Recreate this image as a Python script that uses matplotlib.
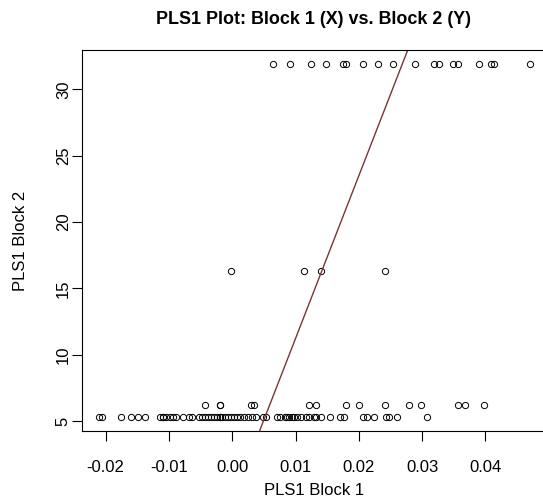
import numpy as np
import matplotlib
matplotlib.use('agg')
import matplotlib.pyplot as plt

plt.rcParams['font.family'] = ['Liberation Sans', 'DejaVu Sans']

# PLS1 scores: block 1 (x) against block 2 (y), one list per y level
x_top = [0.0065, 0.0092, 0.0124, 0.0148, 0.0175, 0.0179, 0.0206, 0.0230, 0.0254,
         0.0289, 0.0319, 0.0327, 0.0349, 0.0357, 0.0390, 0.0408, 0.0413, 0.0470]
y_top = 31.9

x_mid = [-0.0002, 0.0113, 0.0141, 0.0241]
y_mid = 16.33

x_upper = [-0.0043, -0.0019, -0.0019, 0.0029, 0.0035, 0.0122, 0.0132, 0.0179,
           0.0200, 0.0241, 0.0279, 0.0298, 0.0356, 0.0367, 0.0397]
y_upper = 6.2

x_low = [-0.0210, -0.0205, -0.0175, -0.0160, -0.0149, -0.0137, -0.0114, -0.0110,
         -0.0110, -0.0105, -0.0098, -0.0094, -0.0089, -0.0078, -0.0068, -0.0063,
         -0.0052, -0.0048, -0.0043, -0.0038, -0.0033, -0.0029, -0.0024, -0.0019,
         -0.0019, -0.0016, -0.0011, -0.0006, -0.0002, 0.0003, 0.0008, 0.0013,
         0.0019, 0.0025, 0.0032, 0.0038, 0.0048, 0.0054, 0.0071, 0.0076, 0.0083,
         0.0087, 0.0089, 0.0094, 0.0098, 0.0103, 0.0108, 0.0116, 0.0122, 0.0129,
         0.0133, 0.0140, 0.0154, 0.0171, 0.0176, 0.0206, 0.0213, 0.0224, 0.0243,
         0.0248, 0.0260, 0.0308]
y_low = 5.33

# fitted line y = a + b * x
line_a = -1.03
line_b = 1226.0

xticks = [-0.02, -0.01, 0.00, 0.01, 0.02, 0.03, 0.04]
yticks = [5, 10, 15, 20, 25, 30]

x = np.array(x_top + x_mid + x_upper + x_low)
y = np.array([y_top] * len(x_top) + [y_mid] * len(x_mid)
             + [y_upper] * len(x_upper) + [y_low] * len(x_low))

fig = plt.figure(figsize=(5.43, 4.99), dpi=100)
ax = fig.add_axes([82 / 543, 68 / 499, 465 / 543, 381 / 499])

ax.plot(x, y, 'o', mfc='none', mec='black', ms=4.5, mew=0.7)

# R style padding of 4% on each side
xr = x.max() - x.min()
yr = y.max() - y.min()
ax.set_xlim(x.min() - 0.04 * xr, x.max() + 0.04 * xr)
ax.set_ylim(y.min() - 0.04 * yr, y.max() + 0.04 * yr)

xs = np.array(ax.get_xlim())
ax.plot(xs, line_a + line_b * xs, color='#7a3434', lw=1)
ax.set_xlim(xs)

ax.set_xticks(xticks)
ax.set_xticklabels(['%.2f' % t for t in xticks])
ax.set_yticks(yticks)
ax.set_yticklabels([str(t) for t in yticks], rotation=90, va='center')
ax.tick_params(direction='out', length=7, width=0.8, labelsize=12)
ax.tick_params(axis='x', pad=14)
ax.tick_params(axis='y', pad=1)
for s in ax.spines.values():
    s.set_linewidth(0.8)

ax.set_xlabel('PLS1 Block 1', fontsize=12, labelpad=5.5)
ax.set_ylabel('PLS1 Block 2', fontsize=12, labelpad=20)
fig.text(313 / 543, 1 - 20 / 499, 'PLS1 Plot: Block 1 (X) vs. Block 2 (Y)',
         ha='center', va='center', fontsize=12.9, fontweight='bold')

fig.savefig('out.png', dpi=100)
